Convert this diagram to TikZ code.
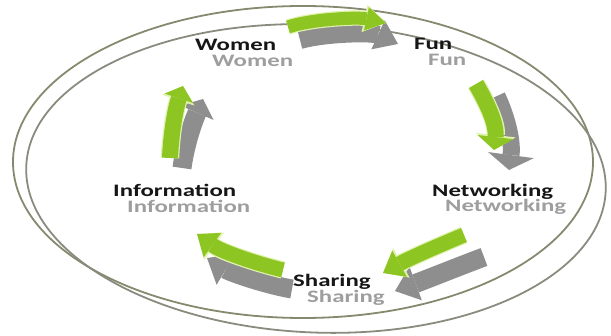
\documentclass[tikz,border=0pt]{standalone}
\usepackage{fontspec}
\setmainfont{Carlito}
\usetikzlibrary{arrows.meta}
\definecolor{lime}{RGB}{141,198,35}
\definecolor{limeedge}{RGB}{225,242,175}
\definecolor{shade}{RGB}{142,142,142}
\definecolor{labelgray}{RGB}{158,158,158}
\definecolor{labelblack}{RGB}{22,22,22}
\definecolor{ringolive}{RGB}{134,137,110}
\definecolor{ringgray}{RGB}{138,139,126}
\tikzset{
  lbl/.style={font=\fontsize{17.5}{20}\selectfont\bfseries, inner sep=0pt, anchor=base west, text=labelblack},
  lblshade/.style={lbl, text=labelgray},
  ring/.style={line width=1.8pt},
  shadearrow/.style n args={3}{draw=shade, line width=#1pt, line cap=butt,
     -{Triangle[length=#2pt,width=#3pt,line width=0pt]}},
  glowarrow/.style n args={3}{draw=limeedge, line width=#1pt+2.4pt, line cap=butt,
     -{Triangle[length=#2pt+2pt,width=#3pt+4pt,line width=0pt]}},
  limearrow/.style n args={3}{draw=lime, line width=#1pt, line cap=butt,
     -{Triangle[length=#2pt,width=#3pt,line width=0pt]}},
}
\newcommand\wide[1]{\scalebox{1.42}[1]{#1}}
\begin{document}
\begin{tikzpicture}[x=1pt,y=-1pt]
\useasboundingbox (0,0) rectangle (611,336);
% rings
\coordinate (ringA) at (303,162);
\coordinate (ringB) at (316,178.5);
\draw[ring, draw=ringolive] (ringA) ellipse [x radius=290pt, y radius=156pt];
\draw[ring, draw=ringgray, rotate around={-2.5:(ringB)}] (ringB) ellipse [x radius=290pt, y radius=154pt];

% arrow end points
\coordinate (a1s) at (288,27);  \coordinate (a1e) at (386,23);
\coordinate (b1s) at (300,40);  \coordinate (b1e) at (398,44);
\coordinate (a2s) at (476,84);  \coordinate (a2e) at (494,150);
\coordinate (b2s) at (497,96);  \coordinate (b2e) at (509,170);
\coordinate (a3s) at (464,235); \coordinate (a3e) at (383,273);
\coordinate (b3s) at (484,257); \coordinate (b3e) at (395,291);
\coordinate (a4s) at (283,270); \coordinate (a4e) at (197,234);
\coordinate (b4s) at (292,289); \coordinate (b4e) at (207,258);
\coordinate (a5s) at (170,158); \coordinate (a5e) at (183,86);
\coordinate (b5s) at (182,168); \coordinate (b5e) at (203,99);

% grey shadows
\draw[shadearrow={18}{22}{32}] (b1s) .. controls (325,33) and (372,32) .. (b1e);
\draw[shadearrow={17}{15}{46}] (b2s) .. controls (506,115) and (513,140) .. (b2e);
\draw[shadearrow={19}{22}{36}] (b3s) .. controls (460,266) and (425,280) .. (b3e);
\draw[shadearrow={19}{22}{36}] (b4s) .. controls (268,285) and (232,273) .. (b4e);
\draw[shadearrow={19}{15}{36}] (b5s) .. controls (185,145) and (193,122) .. (b5e);

% light edges of green arrows
\draw[glowarrow={13}{20}{24}] (a1s) .. controls (312,19) and (358,17) .. (a1e);
\draw[glowarrow={16}{13}{36}] (a2s) .. controls (487,103) and (497,124) .. (a2e);
\draw[glowarrow={15}{19}{30}] (a3s) .. controls (440,245) and (410,258) .. (a3e);
\draw[glowarrow={15}{19}{30}] (a4s) .. controls (258,264) and (222,252) .. (a4e);
\draw[glowarrow={16}{13}{30}] (a5s) .. controls (171,135) and (175,110) .. (a5e);

% green arrows
\draw[limearrow={13}{20}{24}] (a1s) .. controls (312,19) and (358,17) .. (a1e);
\draw[limearrow={16}{13}{36}] (a2s) .. controls (487,103) and (497,124) .. (a2e);
\draw[limearrow={15}{19}{30}] (a3s) .. controls (440,245) and (410,258) .. (a3e);
\draw[limearrow={15}{19}{30}] (a4s) .. controls (258,264) and (222,252) .. (a4e);
\draw[limearrow={16}{13}{30}] (a5s) .. controls (171,135) and (175,110) .. (a5e);

% labels
\node[lblshade] (womenS) at (212,67) {\wide{Women}};
\node[lbl] (women) at (195,51) {\wide{Women}};
\node[lblshade] (funS) at (428,66) {\wide{Fun}};
\node[lbl] (fun) at (414,50) {\wide{Fun}};
\node[lblshade] (netS) at (445,212) {\wide{Networking}};
\node[lbl] (net) at (432,197) {\wide{Networking}};
\node[lblshade] (shareS) at (307,303) {\wide{Sharing}};
\node[lbl] (share) at (293,287) {\wide{Sharing}};
\node[lblshade] (infoS) at (127,213) {\wide{Information}};
\node[lbl] (info) at (113,197) {\wide{Information}};
\end{tikzpicture}
\end{document}
